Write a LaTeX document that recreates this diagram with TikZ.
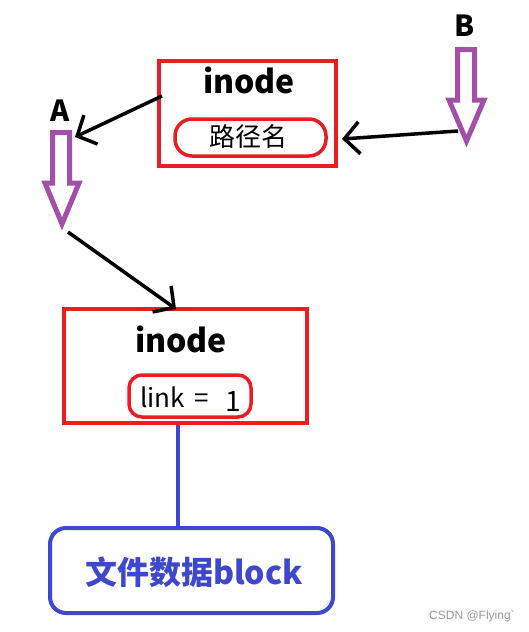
\documentclass[tikz,border=0pt]{standalone}
\usepackage{fontspec}
\setmainfont{Noto Sans CJK SC}
\newfontfamily\wmfont{Liberation Sans}
\usetikzlibrary{arrows.meta}
\definecolor{rd}{HTML}{ED1C24}
\definecolor{pu}{HTML}{A24FA8}
\definecolor{bl}{HTML}{3F48CC}
\definecolor{wm}{HTML}{9A9A9A}
\begin{document}
\begin{tikzpicture}[x=1pt,y=-1pt,
  redbox/.style={draw=rd, line width=4pt, inner sep=0pt},
  redpill/.style={draw=rd, line width=3.5pt, rounded corners=17pt, inner sep=0pt},
  hollow/.style={draw=pu, line width=5pt, line join=miter},
  blk/.style={draw=black, line width=3.5pt, -{Straight Barb[length=15pt,width=32pt,line width=3.5pt]}},
  blueline/.style={draw=bl, line width=4pt},
  bluebox/.style={draw=bl, line width=4pt, rounded corners=16pt, inner sep=0pt},
  lbl/.style={inner sep=0pt, font=\bfseries\fontsize{29}{32}\selectfont},
  ttl/.style={inner sep=0pt, font=\bfseries\fontsize{32}{36}\selectfont},
  txt/.style={inner sep=0pt, font=\fontsize{26}{30}\selectfont}]
\useasboundingbox (0,0) rectangle (528,632);
\fill[white] (0,0) rectangle (528,632);

% top inode box
\node[redbox, minimum width=177pt, minimum height=105pt] (topbox) at (247.5,113.5) {};
\node[ttl] (toptitle) at (249,80) {inode};
\node[redpill, minimum width=151pt, minimum height=37pt] (toppill) at (250.5,137.5) {};
\node[txt] (path) at (248,137) {路径名};

% labels
\node[lbl] (la) at (60,111) {A};
\node[lbl] (lb) at (465,26) {B};

% hollow arrows
\draw[hollow] (52.5,132.5) -- (69.5,132.5) -- (69.5,183) -- (79,183) -- (62,224) -- (45,183) -- (52.5,183) -- cycle;
\draw[hollow] (457.5,49.5) -- (474.5,49.5) -- (474.5,100) -- (484,100) -- (466.5,141) -- (449,100) -- (457.5,100) -- cycle;

% connector endpoints
\coordinate (topout) at (162,96);
\coordinate (atop) at (75,137);
\coordinate (abot) at (68,232);
\coordinate (bmid) at (458,131);
\coordinate (pillin) at (342,139);
\coordinate (botin) at (176,309);

% bottom inode box
\node[redbox, minimum width=243pt, minimum height=114pt] (botbox) at (185.5,366) {};
\node[ttl] (bottitle) at (181,339) {inode};
\node[redpill, rounded corners=13pt, minimum width=122pt, minimum height=42pt] (botpill) at (190,396) {};
\node[txt, anchor=base west] (link) at (140,407) {link\hspace{10pt}=\hspace{16pt}\raisebox{-4pt}{\fontsize{28}{30}\selectfont 1}};

% block box
\node[bluebox, minimum width=283pt, minimum height=85pt] (blockbox) at (191.5,570.5) {};
\node[inner sep=0pt, text=bl, font=\bfseries\fontsize{32}{36}\selectfont] (blocktxt) at (194,572) {文件数据block};

% connectors
\draw[blk] (topout) -- (atop);
\draw[blk] (bmid) -- (pillin);
\draw[blk] (abot) -- (botin);
\draw[blueline] ([xshift=-7.5pt]botbox.south) -- ([xshift=-13.5pt]blockbox.north);

% watermark
\node[inner sep=0pt, text=wm, font=\wmfont\fontsize{12}{14}\selectfont] (wmk) at (472,616) {CSDN @Flying\textasciigrave};
\end{tikzpicture}
\end{document}
